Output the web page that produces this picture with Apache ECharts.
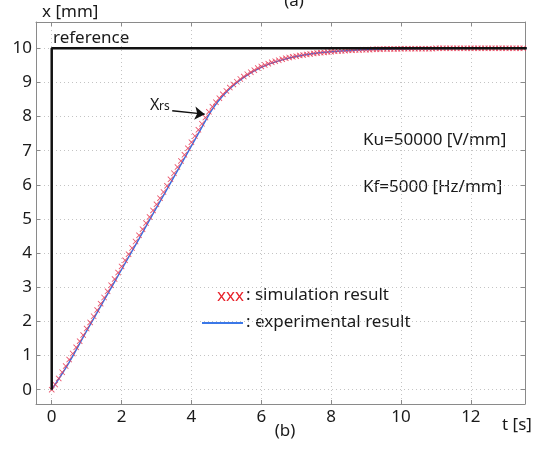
<!DOCTYPE html>
<html>
<head>
<meta charset="utf-8">
<script src="https://cdn.jsdelivr.net/npm/echarts@6/dist/echarts.min.js"></script>
<style>html,body{margin:0;padding:0;background:#fff;}#c{width:548px;height:450px;}</style>
</head>
<body>
<div id="c"></div>
<script>
// ---- data ----
const xTickLabels = ['0', '2', '4', '6', '8', '10', '12'];
const yTickLabels = ['0','1','2','3','4','5','6','7','8','9','10'];

// reference step input: [t, x]
const refT = [0, 0, 13.6];
const refX = [0, 10, 10];

// simulation result, sampled every 0.1 s from t = 0
const simStart = 0;
const simStep = 0.1;
const simX = [
  0.00, 0.15, 0.33, 0.51, 0.69, 0.88, 1.06, 1.24, 1.42, 1.60,
  1.79, 1.97, 2.15, 2.33, 2.52, 2.70, 2.88, 3.06, 3.24, 3.43,
  3.61, 3.79, 3.97, 4.15, 4.34, 4.52, 4.70, 4.88, 5.06, 5.25,
  5.43, 5.61, 5.79, 5.97, 6.16, 6.34, 6.52, 6.70, 6.88, 7.07,
  7.25, 7.43, 7.61, 7.79, 7.97, 8.14, 8.29, 8.42, 8.54, 8.65,
  8.75, 8.85, 8.94, 9.02, 9.10, 9.17, 9.24, 9.30, 9.36, 9.42,
  9.47, 9.51, 9.55, 9.59, 9.62, 9.65, 9.68, 9.71, 9.73, 9.75,
  9.77, 9.79, 9.80, 9.82, 9.83, 9.85, 9.86, 9.87, 9.88, 9.89,
  9.90, 9.91, 9.92, 9.92, 9.93, 9.94, 9.94, 9.95, 9.95, 9.96,
  9.96, 9.96, 9.97, 9.97, 9.97, 9.98, 9.98, 9.98, 9.98, 9.98,
  9.99, 9.99, 9.99, 9.99, 9.99, 9.99, 9.99, 9.99, 9.99, 9.99,
  10.0, 10.0, 10.0, 10.0, 10.0, 10.0, 10.0, 10.0, 10.0, 10.0,
  10.0, 10.0, 10.0, 10.0, 10.0, 10.0, 10.0, 10.0, 10.0, 10.0,
  10.0, 10.0, 10.0, 10.0, 10.0, 10.0
];

// experimental result
const expT = [0, 0.5, 1, 1.5, 2, 2.5, 3, 3.5, 4, 4.3, 4.6, 4.9, 5.2, 5.5, 5.8, 6.2, 6.6, 7, 7.5, 8, 9, 10, 11, 12, 13.6];
const expX = [0, 0.80, 1.72, 2.62, 3.52, 4.42, 5.33, 6.23, 7.14, 7.69, 8.22, 8.61, 8.91, 9.15, 9.34, 9.53, 9.66, 9.76, 9.85, 9.90, 9.96, 9.98, 9.99, 10.0, 10.0];

// ---- build ----
const refData = refT.map((t, i) => [t, refX[i]]);
const simData = simX.map((v, i) => [+(simStart + i * simStep).toFixed(2), v]);
const expData = expT.map((t, i) => [t, expX[i]]);

const FONT = '"Noto Sans", "Open Sans", sans-serif';
const AX = '#8a8a8a';
const TXT = '#1a1a1a';
const crossPath = 'path://M0,1L1,0L5,4L9,0L10,1L6,5L10,9L9,10L5,6L1,10L0,9L4,5Z';

const chart = echarts.init(document.getElementById('c'), null, {renderer: 'canvas'});

const baseX = {
  type: 'value', min: -0.45, max: 13.55, splitNumber: 7,
  axisLine: {show: true, onZero: false, lineStyle: {color: AX, width: 1}},
  axisTick: {show: true, inside: true, length: 4, lineStyle: {color: AX}},
};
const baseY = {
  type: 'value', min: -0.42, max: 10.77, splitNumber: 11,
  axisLine: {show: true, onZero: false, lineStyle: {color: AX, width: 1}},
  axisTick: {show: true, inside: true, length: 4, lineStyle: {color: AX}},
};

chart.setOption({
  animation: false,
  backgroundColor: '#fff',
  grid: {left: 36, right: 23, top: 22, bottom: 46, containLabel: false},
  xAxis: [
    Object.assign({}, baseX, {
      position: 'bottom',
      axisLabel: {
        show: true, margin: 5, fontSize: 17, color: TXT, fontFamily: FONT,
        showMinLabel: false, showMaxLabel: false,
        formatter: v => xTickLabels.includes(String(v)) ? String(v) : ''
      },
      splitLine: {show: true, lineStyle: {color: '#c4c4c4', type: [1, 3], width: 1}}
    }),
    Object.assign({}, baseX, {
      position: 'top',
      axisLabel: {show: false},
      splitLine: {show: false}
    })
  ],
  yAxis: [
    Object.assign({}, baseY, {
      position: 'left',
      name: 'x [mm]', nameLocation: 'end', nameGap: 10,
      nameTextStyle: {fontSize: 17, color: TXT, fontFamily: FONT, align: 'left', verticalAlign: 'middle', padding: [0, 0, 0, 6]},
      axisLabel: {
        show: true, margin: 4, fontSize: 17, color: TXT, fontFamily: FONT,
        showMinLabel: false, showMaxLabel: false,
        formatter: v => yTickLabels.includes(String(v)) ? String(v) : ''
      },
      splitLine: {show: true, lineStyle: {color: '#c4c4c4', type: [1, 3], width: 1}}
    }),
    Object.assign({}, baseY, {
      position: 'right',
      axisLabel: {show: false},
      splitLine: {show: false}
    })
  ],
  series: [
    {
      name: 'experimental result', type: 'line', data: expData,
      xAxisIndex: 0, yAxisIndex: 0,
      showSymbol: false, smooth: 0.3,
      lineStyle: {color: '#3b6fe0', width: 1.5}, z: 2
    },
    {
      name: 'simulation result', type: 'scatter', data: simData,
      xAxisIndex: 0, yAxisIndex: 0,
      symbol: crossPath, symbolSize: 6,
      itemStyle: {color: '#e8405a', opacity: 0.9}, z: 3
    },
    {
      name: 'reference', type: 'line', data: refData,
      xAxisIndex: 0, yAxisIndex: 0,
      showSymbol: false,
      lineStyle: {color: '#111', width: 2.5}, z: 5,
      markLine: {
        silent: true, symbol: ['none', 'arrow'], symbolSize: 10,
        lineStyle: {color: '#111', width: 1.3, type: 'solid'},
        itemStyle: {color: '#111'},
        label: {show: false}, z: 6,
        data: [[{coord: [3.45, 8.17]}, {coord: [4.38, 8.07]}]]
      }
    }
  ],
  graphic: [
    {type: 'text', x: 53, y: 38, style: {text: 'reference', font: '17px ' + FONT, fill: TXT, verticalAlign: 'middle'}},
    {type: 'text', x: 150, y: 105, style: {text: 'X', font: '16px ' + FONT, fill: TXT, verticalAlign: 'middle'}},
    {type: 'text', x: 159, y: 107, style: {text: 'rs', font: '12px ' + FONT, fill: TXT, verticalAlign: 'middle'}},
    {type: 'text', x: 363, y: 140, style: {text: 'Ku=50000 [V/mm]', font: '17px ' + FONT, fill: TXT, verticalAlign: 'middle'}},
    {type: 'text', x: 363, y: 187, style: {text: 'Kf=5000 [Hz/mm]', font: '17px ' + FONT, fill: TXT, verticalAlign: 'middle'}},
    {type: 'text', x: 217, y: 296, style: {text: 'xxx', font: '17px ' + FONT, fill: '#e8232b', verticalAlign: 'middle'}},
    {type: 'text', x: 246, y: 295, style: {text: ': simulation result', font: '17px ' + FONT, fill: TXT, verticalAlign: 'middle'}},
    {type: 'line', shape: {x1: 202, y1: 323, x2: 243, y2: 323}, style: {stroke: '#3b78e8', lineWidth: 2}},
    {type: 'text', x: 246, y: 322, style: {text: ': experimental result', font: '17px ' + FONT, fill: TXT, verticalAlign: 'middle'}},
    {type: 'text', x: 502, y: 425, style: {text: 't [s]', font: '17px ' + FONT, fill: TXT, verticalAlign: 'middle'}},
    {type: 'text', x: 285, y: 431, style: {text: '(b)', font: '17px ' + FONT, fill: TXT, verticalAlign: 'middle', align: 'center'}},
    {type: 'text', x: 294, y: 1, style: {text: '(a)', font: '17px ' + FONT, fill: TXT, verticalAlign: 'middle', align: 'center'}}
  ]
});
</script>
</body>
</html>
